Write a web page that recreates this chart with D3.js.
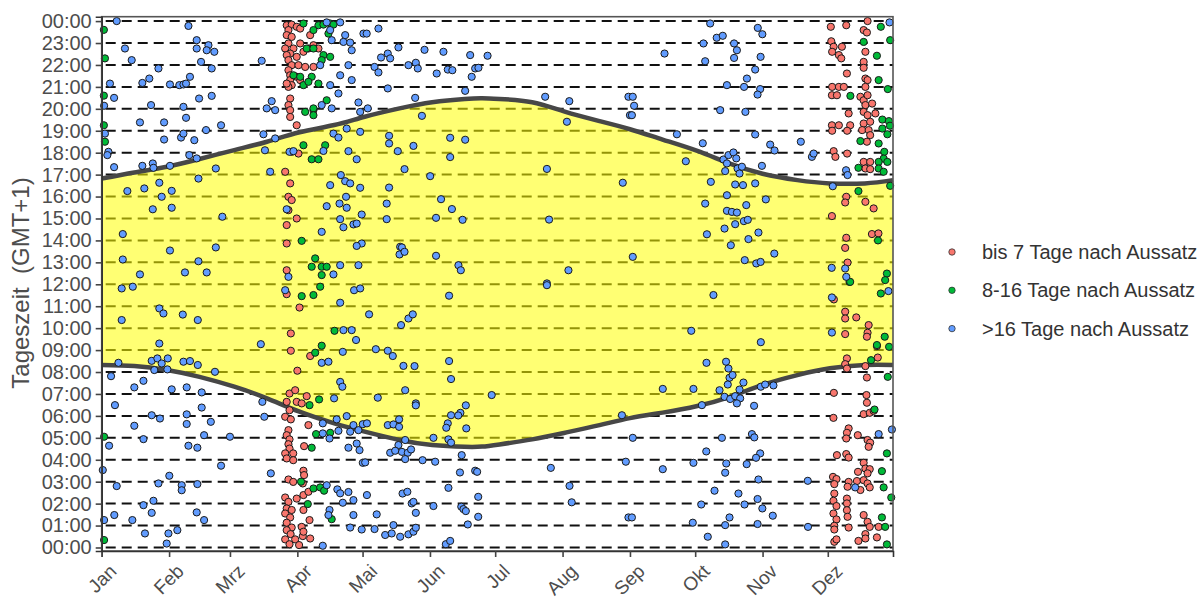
<!DOCTYPE html>
<html>
<head>
<meta charset="utf-8">
<script src="https://cdn.jsdelivr.net/npm/d3@7"></script>
<style>
  body { margin: 0; background: #fff; }
  svg text { font-family: "Liberation Sans", Arial, sans-serif; }
</style>
</head>
<body>
<svg id="chart" width="1204" height="599"></svg>
<script>
// month starts (day of year, 0 = 1 Jan)
const monthStarts = [0, 31, 59, 90, 120, 151, 181, 212, 243, 273, 304, 334];
const monthLabels = ["Jan", "Feb", "Mrz", "Apr", "Mai", "Jun", "Jul", "Aug", "Sep", "Okt", "Nov", "Dez"];
const hourTicks = d3.range(0, 25);

// sunrise / sunset (hours, GMT+1)
const sunDays = [0, 15, 30, 45, 61, 76, 91, 107, 121, 137, 152, 167, 175, 183, 198, 213, 229, 243, 258, 274, 289, 304, 320, 335, 351, 364];
const sunrise = [8.32, 8.27, 8.09, 7.78, 7.33, 6.8, 6.19, 5.66, 5.28, 4.9, 4.67, 4.59, 4.6, 4.7, 4.93, 5.23, 5.58, 5.9, 6.15, 6.45, 6.87, 7.41, 7.86, 8.17, 8.32, 8.32];
const sunset = [16.82, 17.1, 17.36, 17.71, 18.12, 18.5, 18.93, 19.26, 19.64, 20.02, 20.3, 20.45, 20.48, 20.45, 20.3, 19.87, 19.44, 19.07, 18.6, 18.08, 17.5, 17.04, 16.75, 16.6, 16.6, 16.75];

const groupNames = ["bis 7 Tage nach Aussatz", "8-16 Tage nach Aussatz", ">16 Tage nach Aussatz"];
const groupColors = ["#F8766D", "#00BA38", "#619CFF"];

// [day of year, hour]
const redPts = [
  [85.1,23.81],[87.4,23.84],[85.9,23.59],[89.7,23.74],[85.1,23.36],[87.4,23.28],[91.3,23.66],[85.9,22.98],[84.4,22.75],[88.2,22.75],
  [86.7,22.52],[85.1,22.45],[91.3,22.98],[95.9,23.36],[97.4,22.9],[99.7,22.75],[95.1,22.75],[92.8,22.6],[89.7,22.37],[85.9,22.22],
  [87.4,21.99],[85.9,21.76],[86.7,21.53],[90.5,21.99],[93.6,21.91],[97.4,21.91],[86.7,21.31],[87.4,21.08],[85.9,21.0],[89.7,21.46],
  [91.3,21.31],[85.1,21.15],[86.7,20.47],[85.9,20.17],[86.7,19.94],[86.7,19.63],[89.7,19.25],[97.4,19.94],[87.4,18.04],[90.5,17.96],
  [84.4,17.13],[86.7,16.6],[85.9,15.99],[87.4,15.84],[89.7,15.0],[85.1,14.7],[85.9,15.38],[85.1,13.86],[85.1,12.64],
  [85.1,11.55],[91,10.94],[87,9.76],[87,8.97],[90,8.06],[95.9,8.73],[86.4,7.02],[89,7.17],[85.1,6.64],[89.7,6.64],
  [92,6.57],[86.4,6.26],[94.3,6.9],[84.4,5.96],[87,5.84],[95.1,5.58],[85.9,5.35],[85.1,5.12],[86.4,4.93],[85.9,4.71],
  [86.4,4.51],[84.4,4.29],[88.1,4.29],[85.1,4.06],[88.1,3.98],[93.1,4.62],[92.8,3.5],[93.1,3.3],[85.9,3.1],[88.1,2.99],
  [92.5,2.92],[84.4,2.28],[85.9,2.08],[89.7,2.23],[92.8,2.39],[95.1,2.54],[85.1,1.78],[87.4,1.71],[84.4,1.55],[86.7,1.37],
  [92.8,1.71],[95.6,1.25],[85.1,1.13],[87.4,0.91],[92,0.94],[85.1,0.79],[86.9,0.61],[92.5,0.52],[84.4,0.37],[89,0.37],
  [90.8,0.11],[95.9,0.41],[86.4,0.15],[92.8,0.72],
  [335.4,23.74],[342.5,23.81],[352.3,24.0],[350.5,23.59],[352,23.48],[335.6,23.08],[336.7,22.83],[340.5,22.83],[336,22.6],[339.1,22.45],
  [340.2,22.3],[351.3,22.6],[350.5,22.14],[350.5,21.87],[342.8,21.61],[351.3,21.38],[352.3,21.31],[351.3,21.0],[336,21.0],[339.1,21.0],
  [341.4,21.0],[335.9,20.62],[338.2,20.62],[349,20.55],[350.5,20.39],[352.3,20.62],[351.3,20.17],[354.4,20.24],[343.6,19.79],[350.5,19.86],
  [352.3,19.71],[355.9,19.79],[335.9,19.25],[339.1,19.25],[344.3,19.25],[350.5,19.33],[353.5,19.41],[349.8,19.03],[352.8,19.03],[336,19.0],
  [342.9,19.0],[353.5,18.8],[352,18.5],[336.7,18.07],[337.5,17.81],[342.9,17.96],[350.5,17.58],[353.5,17.58],[351.3,17.28],[353.5,17.25],
  [342.5,15.99],[342,15.73],[351.3,15.76],[355.1,15.46],[335.9,15.11],[354.3,14.29],[357.3,14.32],[342.5,14.12],[342,13.66],[343.1,12.99],
  [336.8,11.31],[342,10.75],[342,10.44],[347.1,10.49],[352.8,10.14],[352.3,9.79],[352,9.61],[342,9.73],[356.6,9.18],[357,8.66],
  [342.8,8.62],[342,8.36],[342.8,8.16],[351.3,8.27],[352,7.75],[336.8,7.05],[351.8,6.95],[352,6.6],[350.5,6.08],[353.3,6.14],
  [355.1,6.23],[336.6,5.91],[343.6,5.43],[342.8,5.23],[347.8,5.12],[342.5,4.97],[352.3,4.9],[353.5,4.78],[352.8,4.59],[338.2,4.21],
  [342.5,4.26],[343.6,4.1],[350.5,3.86],[351.3,3.6],[353.3,3.57],[347.9,3.45],[352.3,3.38],[336.4,3.22],[338,3.12],[337,2.89],
  [343.6,2.99],[343.1,2.77],[347.4,3.03],[350.5,3.07],[352.3,2.92],[349,2.62],[353.3,2.74],[337,2.46],[336.6,2.13],[338,1.89],
  [342.8,2.23],[342.8,2.01],[342.8,1.7],[343.1,1.4],[336.6,1.55],[338,1.28],[337,0.99],[337,0.82],[343.6,0.91],[350.5,1.48],
  [352.3,1.17],[353.3,0.94],[357.4,0.94],[351.3,0.61],[356.6,0.46],[337,0.26],[338,0.37],[348.1,0.3],[351.3,0.41]
];

const greenPts = [
  [1,23.6],[1.5,22.3],[1,20.6],[1,19.25],[1.5,18.5],[1.1,5.05],[1.1,0.34],
  [92.8,23.89],[99.7,23.81],[102,23.84],[105.1,23.89],[106.6,23.84],[97.4,23.59],[104.3,23.43],[94.3,22.75],[97.4,22.75],[102,22.45],
  [105.1,22.37],[101.2,22.22],[88.2,21.53],[91.3,21.46],[96.6,21.46],[92.8,21.08],[99.7,21.15],[95.1,21.23],[103.5,20.39],[97.4,20.02],
  [97.4,19.71],[93.6,19.86],[92.8,18.34],[102.8,18.34],[96.6,17.7],[99.7,17.7],[92,13.98],[98.2,13.18],[96.6,12.8],[101.2,12.8],
  [103.5,12.8],[101.2,12.42],
  [92,11.46],[97.4,11.51],[100.5,11.89],[107.1,9.88],[98.2,8.88],[101.2,9.2],[100,6.75],[95.6,6.49],[105.1,5.23],[98.6,5.17],
  [96.6,4.55],[97.4,2.69],[100.5,2.74],[102.3,2.59],[94.8,1.98],[105.8,1.29],[91.7,3.0],
  [358.4,23.74],[350.5,23.05],[356.6,22.42],[362.7,23.13],[344.4,20.59],[357.4,21.31],[361.6,20.9],[359.1,19.51],[362.1,19.44],[362.6,19.23],
  [361.4,18.84],[359.1,19.1],[349,18.53],[357.4,18.42],[360,18.04],[359.7,17.73],[357.4,17.58],[361.4,17.58],[348.1,17.31],[357.4,17.28],
  [359.7,17.13],[362.7,16.49],[348.1,16.25],[357.1,14.0],[361.2,12.49],[344,12.11],
  [344.3,12.11],[360.4,12.19],[358.4,11.58],[360.2,9.61],[362.2,9.15],[353.9,8.54],[356.6,9.23],[361.6,7.78],[355.5,6.29],[361.2,4.29],
  [358.9,3.48],[359.7,2.74],[363.2,2.28],[358.9,1.37],[360.4,0.94],[361.2,0.14]
];

const bluePts = [
  [6.9,24.0],[39.9,23.78],[43.7,23.13],[10.7,22.75],[43.7,22.75],[49.1,22.9],[48.3,22.67],[51.8,22.6],[13.8,22.22],[45.7,22.14],
  [50.6,21.84],[26.1,21.84],[73.6,22.19],[3.8,21.15],[18.7,21.18],[21.9,21.38],[31.4,21.11],[35.7,21.08],[37.6,21.11],[38.8,21.15],
  [40.6,21.46],[5.7,20.5],[1.1,20.14],[22.7,20.17],[44.8,20.47],[50.6,20.59],[37.6,20.09],[38.8,19.59],[17.6,19.38],[28.7,19.38],
  [48,19.03],[54.9,19.25],[1.5,18.87],[28.7,18.6],[36.5,18.69],[42.6,18.57],[37.6,18.87],[3.1,18.04],[2.6,17.89],[5.7,17.34],
  [18.7,17.4],[23.5,17.51],[23.8,17.31],[31.4,17.4],[40.3,17.89],[43.7,17.74],[52.5,17.28],[44.5,16.82],[11.8,16.25],[19.6,16.37],
  [26.5,16.63],[27.6,15.99],[32.2,16.26],[23.5,15.42],[32.2,15.49],[55.5,15.08],[9.7,14.29],[31.4,13.54],[52.5,13.68],[9.7,13.13],
  [44.5,13.05],[17.6,12.45],[38.3,12.54],[48.3,12.54],[85.9,12.34],
  [103.5,23.94],[109.7,23.94],[105.1,23.59],[112,23.36],[105.8,23.13],[111.2,23.05],[114.3,23.02],[115,22.67],[100.5,21.99],[109.7,21.53],
  [113.5,21.99],[105.1,21.08],[108.9,20.7],[105.8,20.02],[101.2,20.17],[118.1,20.29],[118.9,19.86],[115,21.31],[120.4,23.43],[78.2,20.35],
  [75.9,20.02],[79.8,19.94],[74.4,18.84],[79.8,18.65],[75.1,18.11],[86.4,18.04],[88.2,18.07],[106.6,18.87],[108.9,18.69],[112.7,19.1],
  [118.9,18.95],[102,18.08],[113.5,18.07],[117.3,17.7],[77.5,17.13],[105.1,16.52],[110,16.98],[112,16.7],[114.3,16.6],[118.9,16.4],
  [112.4,15.99],[109.4,15.68],[112.7,15.49],[103.5,15.56],[109.7,14.97],[115.8,14.73],[119.6,15.18],[117.3,14.77],[111.2,14.6],[101.2,14.39],
  [119.6,13.86],[117.3,13.75],[106.6,12.45],[85.1,15.42],[109.7,12.87],[118.1,12.87],
  [121.9,23.43],[127.3,23.66],[136.5,22.8],[128.5,22.34],[131.6,22.52],[132.7,22.3],[125.5,21.91],[127.3,21.66],[141.1,21.99],[144.5,22.1],
  [145.4,21.84],[148.5,22.69],[157.2,22.6],[154.1,21.61],[159.2,21.79],[161.3,21.76],[169.5,22.45],[177.5,22.42],[170.2,21.46],[171.8,21.84],
  [173.3,21.87],[131.6,20.93],[144.2,20.5],[167.2,20.82],[122.4,20.02],[147.3,19.68],[204,20.55],[215.1,20.35],[214,19.41],[242.3,20.55],
  [243,19.71],[132.2,18.77],[132.2,18.42],[136.2,18.07],[143.4,18.31],[160.3,18.68],[167.2,18.59],[160.3,17.8],[139.3,17.25],[151.1,16.93],
  [132.2,16.41],[131.1,15.68],[131.1,14.97],[156.1,15.88],[161.1,15.43],[153.8,15.03],[166,14.94],[204.8,17.26],[239.7,16.63],[205.8,14.95],
  [137.3,13.71],[138.1,13.68],[137,13.36],[139.3,13.48],[153.8,13.3],[164.1,12.87],[165.2,12.64],[214.7,12.64],[204.8,12.04],
  [279.9,23.89],[301.8,23.69],[303.9,23.4],[282.9,23.24],[285.7,23.33],[276.8,22.98],[290.9,22.98],[292.2,22.67],[258.9,22.52],[290.9,22.32],
  [303.1,22.37],[277.6,22.17],[300.6,21.79],[296.8,21.38],[287.6,21.08],[295.5,21],[302.9,20.9],[301.7,20.65],[244.3,20.55],[244.9,20.14],
  [243.9,19.71],[284.5,19.94],[296.1,19.86],[264.6,18.84],[300.6,18.83],[276.5,18.43],[307.5,18.37],[309.5,18.1],[321.6,18.5],[268.7,17.61],
  [286,17.69],[288.3,17.89],[290.6,18.01],[291.9,17.74],[287.6,17.51],[286.8,17.16],[292.5,17.28],[294.5,17.36],[293.4,17.05],[303.7,17.4],
  [326.7,17.81],[327.5,17.96],[280.2,16.67],[291.4,16.55],[295,16.52],[300.6,16.6],[336.3,16.47],[342.4,17.2],[343.1,16.98],[287.6,16.06],
  [277.6,15.68],[296.5,15.61],[305.5,15.87],[287.6,15.35],[289.9,15.3],[292.2,15.27],[295.4,14.88],[297.2,14.94],[291.4,14.74],[286.5,14.54],
  [302.1,14.36],[278.4,14.28],[289.4,13.78],[297.5,14.06],[309.4,13.4],[244.3,13.25],[295.8,13.1],[301.1,12.95],[303.1,13.02],[335.8,12.75],
  [342,12.72],[342.5,12.34],[362.4,23.94],
  [9.2,11.81],[14.3,11.89],[26.5,10.9],[28.4,10.67],[37.3,10.62],[44.2,10.37],[9.2,10.37],[26.5,9.3],[7.7,8.42],[23,8.51],
  [25.6,8.62],[27.6,8.39],[30.4,8.62],[24.2,8.09],[30.2,8.12],[37.6,8.47],[40.6,8.5],[44.2,8.32],[52.1,8.01],[73.2,9.27],
  [4.3,7.81],[19.2,7.6],[15,7.3],[32.2,7.21],[39.1,7.3],[46,7.07],[6.1,6.49],[23,6.03],[26.8,5.88],[39.1,6.07],
  [39.1,5.63],[46,6.38],[50.2,5.73],[73.9,6.64],[74.8,5.96],[15,5.55],[3.4,4.64],[19.2,4.94],[39.9,4.64],[44,4.55],
  [47.1,5.12],[59,5.05],[54.9,3.73],[77.8,3.38],[6.9,2.8],[26.1,2.92],[31.1,3.27],[36.8,2.84],[36.8,2.61],[44,2.89],
  [19.2,1.93],[23.8,2.13],[23,1.58],[43.7,1.6],[47.1,1.25],[5.8,1.48],[14.1,1.25],[1.1,1.25],[19.9,0.64],[30.7,0.64],
  [34.8,0.79],[29.9,0.18],[0.5,3.53],
  [84.4,11.73],[109.7,11.16],[116.1,11.73],[118.9,11.81],[111.2,9.91],[115,9.91],[117,9.46],[110.9,8.92],[101.2,8.42],[104.3,8.47],
  [109.7,7.55],[110.7,7.33],[106.9,6.8],[112.7,5.99],[108.1,5.84],[101.7,5.66],[115.8,5.58],[118.1,5.35],[120.1,5.62],[114.3,5.28],
  [108.9,5.32],[104.8,4.97],[101.7,5.2],[113.5,4.55],[117.3,4.74],[118.6,4.44],[120.1,3.86],[103.5,2.84],[108.4,2.65],[109.7,2.47],
  [113.5,2.53],[115.8,2.16],[110.9,2.04],[104.8,1.71],[104.3,1.48],[115.8,1.48],[114.3,0.91],[119.6,0.82],[101.7,0.08],
  [204.8,11.96],[159.8,11.48],[123,10.63],[141.1,10.44],[143.1,10.63],[137.7,10.14],[126.1,9.04],[131.6,8.97],[133.9,8.73],[138.8,8.28],
  [143.9,8.27],[159.8,8.5],[160.7,7.68],[139.6,7.17],[127,6.83],[144.5,6.57],[144.5,6.48],[179.4,6.95],[167.5,6.48],[239.3,6.03],
  [122,5.66],[131.6,5.58],[134.2,5.61],[136.8,5.84],[136.8,5.5],[160.7,6.03],[165,6.14],[164,6.02],[159.2,5.66],[158.5,5.46],
  [167.7,5.43],[152.6,5.0],[159.5,4.93],[160.7,4.78],[139.6,4.9],[136.5,4.67],[138.1,4.36],[140.8,4.32],[142.3,4.47],[132.7,4.32],
  [135,4.41],[139.6,4.03],[147.6,3.98],[153.4,3.91],[165.6,4.21],[121.2,3.88],[164.8,3.42],[171.8,3.5],[172.7,3.45],[206.6,3.63],
  [241.1,3.91],[159.5,2.72],[138.4,2.46],[140.6,2.54],[122,2.39],[142.6,2.01],[143.4,2.08],[152.6,1.89],[165.4,1.86],[166.4,1.75],
  [167.5,1.66],[173.2,2.31],[126.5,1.51],[144.5,1.58],[173.2,1.4],[215.2,2.81],[216.2,2.06],[242.3,1.37],[125.5,0.84],[134.2,1.02],
  [130.4,0.57],[133.4,0.64],[137.3,0.49],[141.1,0.6],[143.4,0.72],[144.5,0.9],[168.4,1.05],[158.3,0.15],[160.3,0.3],
  [281.4,11.51],[271.2,9.88],[303.2,9.36],[278.2,8.42],[287.2,8.47],[288.3,8.16],[288.8,7.74],[290.2,7.86],[288,7.43],[295.2,7.52],
  [293.4,7.2],[258.1,7.23],[272.2,7.23],[284.2,7.17],[286.5,6.87],[289.1,6.77],[291.4,6.9],[293.7,6.8],[292.2,6.57],[303.2,7.33],
  [305.2,7.43],[309,7.39],[276.1,6.49],[300.1,6.46],[335.9,11.4],[361.9,11.69],[335.9,9.8],[244.3,5.0],[285.3,5.0],[299.1,5.17],
  [300.2,5.02],[278.1,4.38],[302.9,4.29],[301,4.09],[296.7,3.8],[272.2,3.86],[287.3,3.83],[286.8,3.41],[258.1,3.57],[302.1,3.1],
  [324.8,3.04],[281.9,2.59],[292.9,2.46],[301.7,2.21],[275.8,1.96],[295.7,1.96],[303.9,1.78],[308.7,1.45],[243.9,1.37],[271.9,1.13],
  [288.8,1.37],[286.8,1.02],[301.7,1.07],[324.9,0.94],[278.8,0.49],[286.8,0.14],[357.4,5.17],[363.5,5.38],[346.6,2.74]
];

const svg = d3.select("#chart");
const plotLeft = 101.7, plotRight = 893, plotTop = 16.7, plotBottom = 551;

const x = d3.scaleLinear().domain([0, 364]).range([plotLeft, plotRight]);
const y = d3.scaleLinear().domain([-0.16, 24.2]).range([plotBottom, plotTop]);

// dashed hour lines
svg.append("g")
  .selectAll("line")
  .data(hourTicks)
  .join("line")
  .attr("x1", plotLeft).attr("x2", plotRight)
  .attr("y1", d => y(d)).attr("y2", d => y(d))
  .attr("stroke", "#111")
  .attr("stroke-width", 2)
  .attr("stroke-dasharray", "10,6")
  .attr("stroke-dashoffset", -4);

// daylight band
const sunData = sunDays.map((d, i) => ({ d: d, rise: sunrise[i], set: sunset[i] }));
const band = d3.area()
  .x(p => x(p.d))
  .y0(p => y(p.rise))
  .y1(p => y(p.set))
  .curve(d3.curveNatural);
svg.append("path")
  .datum(sunData)
  .attr("d", band)
  .attr("fill", "#ffff00")
  .attr("fill-opacity", 0.55);

const riseLine = d3.line().x(p => x(p.d)).y(p => y(p.rise)).curve(d3.curveNatural);
const setLine = d3.line().x(p => x(p.d)).y(p => y(p.set)).curve(d3.curveNatural);
[riseLine, setLine].forEach(gen => {
  svg.append("path")
    .datum(sunData)
    .attr("d", gen)
    .attr("fill", "none")
    .attr("stroke", "#474747")
    .attr("stroke-width", 4.5);
});

// points
const groups = [redPts, greenPts, bluePts];
groups.forEach((pts, gi) => {
  svg.append("g")
    .selectAll("circle")
    .data(pts)
    .join("circle")
    .attr("cx", p => x(p[0]))
    .attr("cy", p => y(p[1]))
    .attr("r", 3.6)
    .attr("fill", groupColors[gi])
    .attr("stroke", "#1a1a1a")
    .attr("stroke-width", 1);
});

// panel border
svg.append("rect")
  .attr("x", plotLeft).attr("y", plotTop)
  .attr("width", plotRight - plotLeft).attr("height", plotBottom - plotTop)
  .attr("fill", "none")
  .attr("stroke", "#555")
  .attr("stroke-width", 1.6);

// axes
const xAxis = d3.axisBottom(x)
  .tickValues(monthStarts)
  .tickFormat((d, i) => monthLabels[i])
  .tickSize(6)
  .tickPadding(4);
const gx = svg.append("g").attr("transform", `translate(0,${plotBottom})`).call(xAxis);
gx.select(".domain").attr("stroke", "#333").attr("stroke-width", 1.6);
gx.selectAll(".tick line").attr("stroke", "#444").attr("stroke-width", 1.6);
gx.selectAll(".tick text")
  .attr("font-size", 19)
  .attr("fill", "#4d4d4d")
  .attr("text-anchor", "end")
  .attr("transform", "translate(6,12) rotate(-45)")
  .attr("y", 0).attr("x", 0).attr("dy", "0.7em");

const yAxis = d3.axisLeft(y)
  .tickValues(hourTicks)
  .tickFormat(d => String(d % 24).padStart(2, "0") + ":00")
  .tickSize(6)
  .tickPadding(4);
const gy = svg.append("g").attr("transform", `translate(${plotLeft},0)`).call(yAxis);
gy.select(".domain").attr("stroke", "#333").attr("stroke-width", 1.6);
gy.selectAll(".tick line").attr("stroke", "#444").attr("stroke-width", 1.6);
gy.selectAll(".tick text").attr("font-size", 20).attr("fill", "#4d4d4d");

// y title
svg.append("text")
  .attr("transform", "translate(29,283) rotate(-90)")
  .attr("text-anchor", "middle")
  .attr("font-size", 24)
  .attr("fill", "#4d4d4d")
  .style("white-space", "pre")
  .text("Tageszeit  (GMT+1)");

// legend
const legend = svg.append("g").attr("transform", "translate(952,252)");
groupNames.forEach((name, i) => {
  const row = legend.append("g").attr("transform", `translate(0,${i * 38.3})`);
  row.append("circle").attr("r", 3.2).attr("fill", groupColors[i]).attr("stroke", "#333").attr("stroke-width", 0.8);
  row.append("text").attr("x", 30).attr("dy", "0.35em").attr("font-size", 20).attr("fill", "#333").text(name);
});
</script>
</body>
</html>
